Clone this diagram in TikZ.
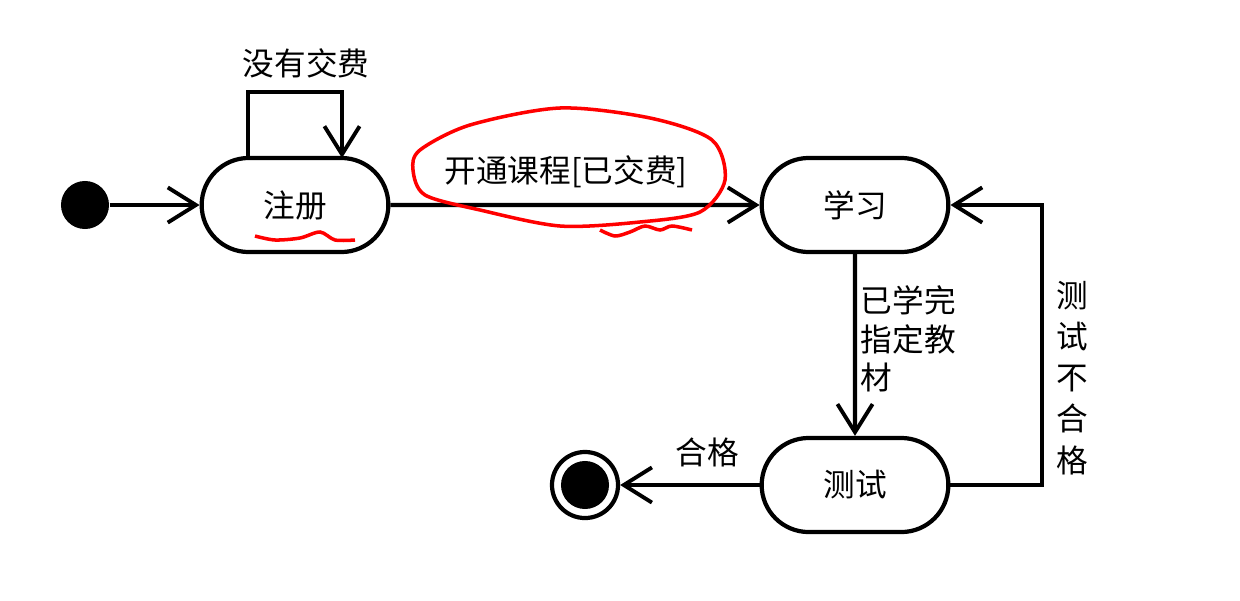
\documentclass[tikz,border=0pt]{standalone}
\usepackage{fontspec}
\setmainfont{Noto Sans CJK SC}
\usetikzlibrary{arrows.meta,shapes.misc}
\begin{document}
\begin{tikzpicture}[x=0.01cm,y=-0.01cm,
  st/.style={draw,line width=1.2pt,rounded rectangle,minimum width=2.1cm,minimum height=0.94cm,font=\fontsize{9}{11}\selectfont},
  lbl/.style={font=\fontsize{9}{11}\selectfont},
  ar/.style={line width=1.2pt,-{Straight Barb[length=8pt,width=10pt,line width=1.1pt]}},
  red/.style={draw=red,line width=1pt}]
\useasboundingbox (0,0) rectangle (1240,600);
\node[circle,fill=black,minimum size=0.48cm,inner sep=0] (init) at (85,205) {};
\node[st] (reg) at (295,205) {注册};
\node[st] (learn) at (855,205) {学习};
\node[st] (test) at (855,485) {测试};
\node[circle,draw,line width=1.2pt,minimum size=0.66cm,inner sep=0] (fin) at (585,485) {};
\node[circle,fill=black,minimum size=0.48cm,inner sep=0] (finin) at (585,485) {};
\coordinate (l1) at (248,92); \coordinate (l2) at (342,92);
\coordinate (t1) at (1042,485); \coordinate (t2) at (1042,205);
\draw[ar] (init) -- (reg);
\draw[ar] (248,158) -- (l1) -- (l2) -- (342,158);
\node[lbl] (nopay) at (306,63) {没有交费};
\draw[ar] (reg) -- (learn);
\node[lbl] (open) at (566,172) {开通课程[已交费]};
\draw[ar] (learn) -- (test);
\node[lbl,align=left,anchor=north west,inner sep=0] (done) at (860,285) {已学完\\指定教\\材};
\draw[ar] (test.east) -- (t1) -- (t2) -- (learn.east);
\node[lbl,font=\fontsize{9}{11.7}\selectfont,align=center,inner sep=0] (fail) at (1072,378) {测\\试\\不\\合\\格};
\draw[ar] (test) -- (fin);
\node[lbl] (pass) at (707,452) {合格};
\draw[red] plot[smooth cycle] coordinates {(420,150) (470,125) (560,108) (650,118) (712,140) (725,180) (700,212) (640,222) (560,226) (480,210) (425,195) (413,170)};
\draw[red] plot[smooth] coordinates {(255,236) (275,240) (300,238) (320,232) (335,240) (355,240)};
\draw[red] plot[smooth] coordinates {(600,230) (615,236) (630,232) (645,226) (660,230) (672,226) (692,230)};
\end{tikzpicture}
\end{document}
